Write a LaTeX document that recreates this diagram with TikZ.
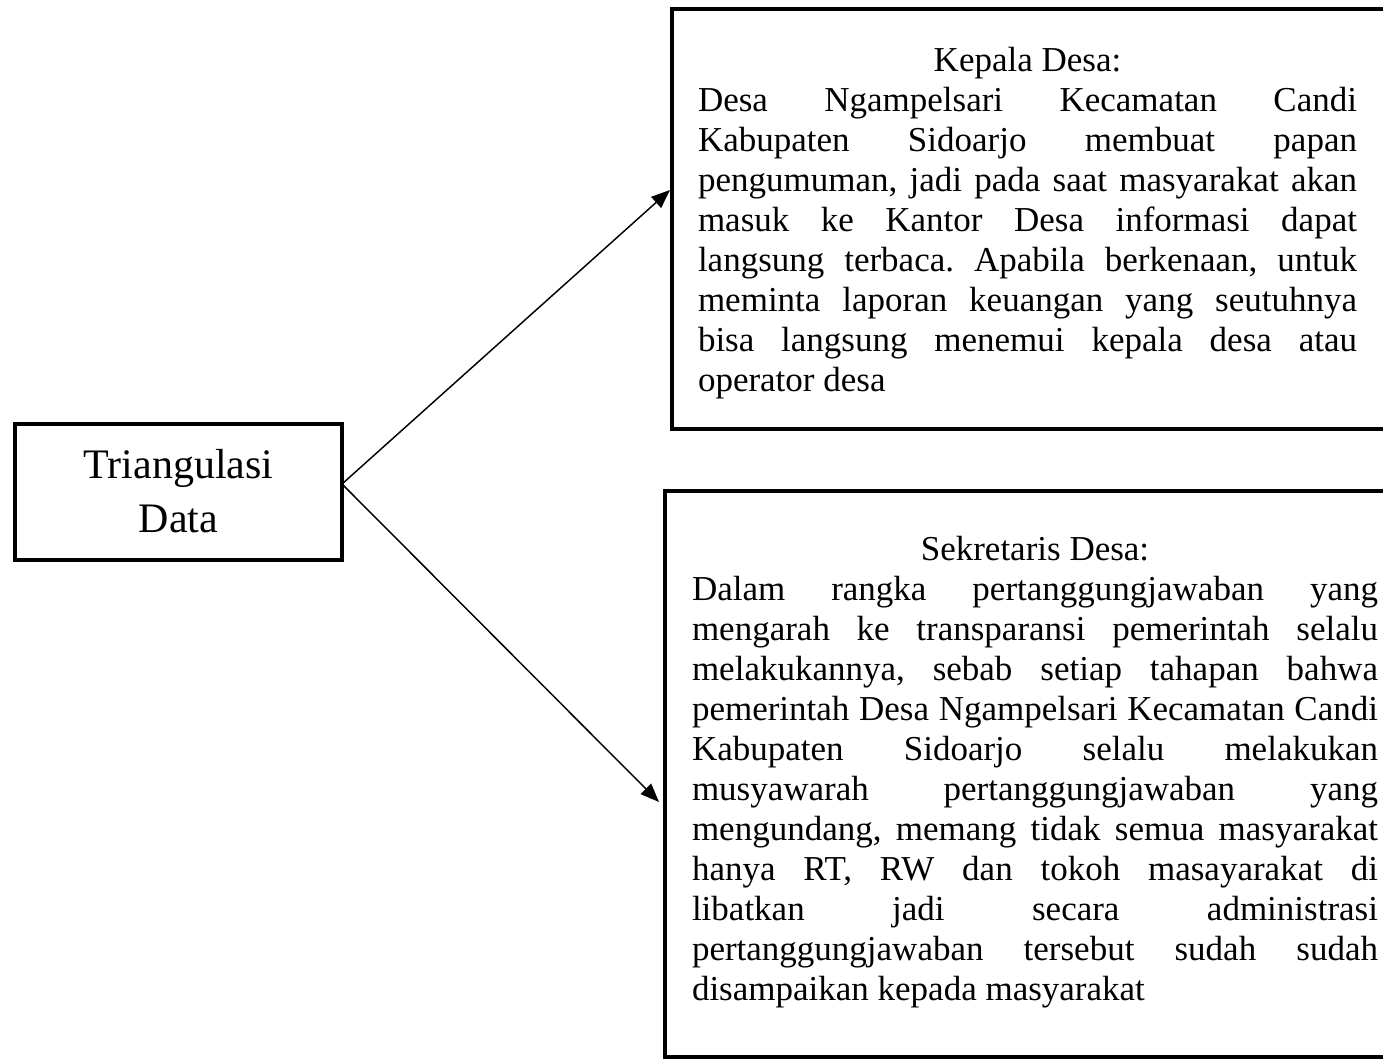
\documentclass[tikz,border=0pt]{standalone}
\usepackage{fontspec}
\setmainfont{Liberation Serif}
\usetikzlibrary{arrows.meta}
\hbadness=10000 \hfuzz=6pt
\frenchspacing
\newcommand\jline[1]{\hbox to\hsize{#1}}
\newcommand\ctrline[1]{\hbox to\hsize{\hfil#1\hfil}}
\newcommand\lline[1]{\hbox{#1}}
\begin{document}
\begin{tikzpicture}[x=0.75pt,y=-0.75pt,
  boxst/.style={draw, line width=3pt, rectangle, inner sep=0pt, outer sep=0pt},
  txt/.style={inner sep=0pt, outer sep=0pt, anchor=base west},
  conn/.style={line width=1.1pt, -{Triangle[length=14pt,width=11pt]}}]
\path[use as bounding box, clip] (0,0) rectangle (1383,1059);
\fill[white] (0,0) rectangle (1383,1059);
% boxes
\node[boxst, minimum width=245.25pt, minimum height=102pt] (tri) at (178.5,492) {};
\node[boxst, minimum width=546pt, minimum height=315pt] (kep) at (1036,219) {};
\node[boxst, minimum width=551.25pt, minimum height=424.5pt] (sek) at (1032.5,774) {};
% texts
\node[inner sep=0pt, outer sep=0pt, anchor=base] (tritxt) at (178.5,478)
  {\parbox[t]{240pt}{\fontsize{31.5}{40.5}\selectfont
   \ctrline{Triangulasi}
   \ctrline{Data}}};
\node[txt] (keptxt) at (698,72)
  {\parbox[t]{494.25pt}{\fontsize{26.25}{30}\selectfont
   \ctrline{Kepala Desa:}
   \jline{Desa Ngampelsari Kecamatan Candi}
   \jline{Kabupaten Sidoarjo membuat papan}
   \jline{pengumuman, jadi pada saat masyarakat akan}
   \jline{masuk ke Kantor Desa informasi dapat}
   \jline{langsung terbaca. Apabila berkenaan, untuk}
   \jline{meminta laporan keuangan yang seutuhnya}
   \jline{bisa langsung menemui kepala desa atau}
   \lline{operator desa}}};
\node[txt] (sektxt) at (692,560)
  {\parbox[t]{514.5pt}{\fontsize{26.25}{30}\selectfont
   \ctrline{Sekretaris Desa:}
   \jline{Dalam rangka pertanggungjawaban yang}
   \jline{mengarah ke transparansi pemerintah selalu}
   \jline{melakukannya, sebab setiap tahapan bahwa}
   \jline{pemerintah Desa Ngampelsari Kecamatan Candi}
   \jline{Kabupaten Sidoarjo selalu melakukan}
   \jline{musyawarah pertanggungjawaban yang}
   \jline{mengundang, memang tidak semua masyarakat}
   \jline{hanya RT, RW dan tokoh masayarakat di}
   \jline{libatkan jadi secara administrasi}
   \jline{pertanggungjawaban tersebut sudah sudah}
   \lline{disampaikan kepada masyarakat}}};
% connectors
\coordinate (start) at ([yshift=6pt]tri.east);
\coordinate (tipA) at (670,190);
\coordinate (tipB) at (659,802);
\draw[conn] (start) -- (tipA);
\draw[conn] (start) -- (tipB);
\end{tikzpicture}
\end{document}
